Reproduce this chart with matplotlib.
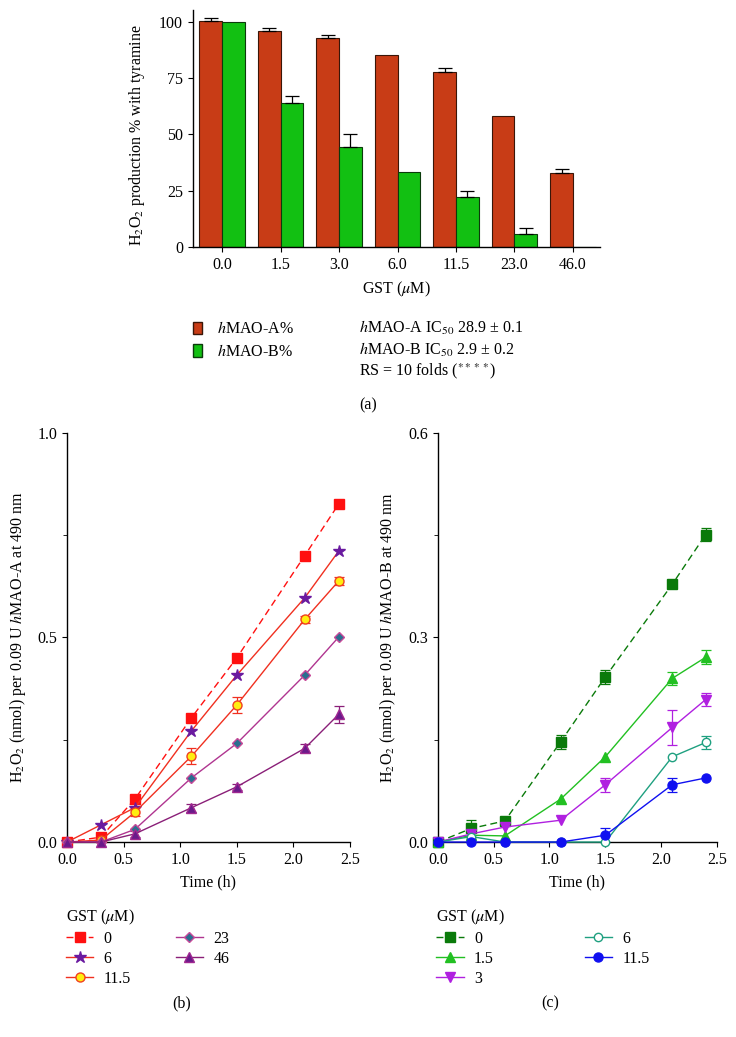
import matplotlib

matplotlib.use("Agg")
import matplotlib.pyplot as plt
import numpy as np
from matplotlib.patches import Patch
from matplotlib.ticker import FormatStrFormatter

FS = 11.5
plt.rcParams.update({
    "font.family": ["Liberation Serif", "DejaVu Serif"],
    "mathtext.fontset": "stix",
    "font.size": FS,
    "axes.spines.top": False,
    "axes.spines.right": False,
    "axes.linewidth": 1.0,
    "xtick.direction": "out",
    "ytick.direction": "out",
    "figure.facecolor": "white",
})

# ---- panel (a): % H2O2 production vs GST concentration ----
gst_labels = ["0.0", "1.5", "3.0", "6.0", "11.5", "23.0", "46.0"]
mao_a_pct = [100.3, 95.7, 92.7, 85.0, 77.7, 58.0, 32.8]
mao_a_err = [1.3, 1.5, 1.2, 0.0, 1.6, 0.0, 1.6]
mao_b_pct = [100.0, 64.0, 44.4, 33.0, 22.3, 5.5, 0.0]
mao_b_err = [0.0, 2.9, 5.5, 0.0, 2.7, 2.8, 0.0]

# ---- time courses ----
time_h = [0.0, 0.3, 0.6, 1.1, 1.5, 2.1, 2.4]

# panel (b): hMAO-A
b_labels = ["0", "6", "11.5", "23", "46"]
b_vals = [
    [0.0, 0.012, 0.105, 0.304, 0.450, 0.700, 0.826],
    [0.0, 0.042, 0.084, 0.272, 0.408, 0.597, 0.711],
    [0.0, 0.005, 0.073, 0.210, 0.335, 0.544, 0.638],
    [0.0, 0.000, 0.031, 0.157, 0.241, 0.408, 0.501],
    [0.0, 0.000, 0.020, 0.084, 0.135, 0.229, 0.312],
]
b_errs = [
    [0, 0, 0, 0, 0, 0.005, 0.008],
    [0, 0, 0, 0, 0, 0, 0],
    [0, 0, 0.01, 0.02, 0.02, 0.008, 0.01],
    [0, 0, 0, 0, 0, 0, 0],
    [0, 0, 0.008, 0.01, 0.008, 0.01, 0.02],
]

# panel (c): hMAO-B
c_labels = ["0", "1.5", "3", "6", "11.5"]
c_vals = [
    [0.0, 0.020, 0.031, 0.147, 0.242, 0.378, 0.451],
    [0.0, 0.010, 0.009, 0.063, 0.125, 0.240, 0.271],
    [0.0, 0.012, 0.022, 0.032, 0.084, 0.168, 0.209],
    [0.0, 0.008, 0.000, 0.000, 0.000, 0.125, 0.146],
    [0.0, 0.000, 0.000, 0.000, 0.010, 0.084, 0.094],
]
c_errs = [
    [0, 0.013, 0.005, 0.01, 0.01, 0.004, 0.01],
    [0, 0, 0, 0, 0, 0.01, 0.01],
    [0, 0, 0, 0, 0.01, 0.025, 0.01],
    [0, 0, 0, 0, 0, 0, 0.01],
    [0, 0, 0, 0, 0.01, 0.01, 0],
]

b_styles = [
    dict(color="#ff1010", ls="--", marker="s", mfc="#ff1010", mec="#ff1010", ms=6.5),
    dict(color="#f03020", ls="-", marker="*", mfc="#6a1aa0", mec="#6a1aa0", ms=9),
    dict(color="#f03020", ls="-", marker="o", mfc="#ffee10", mec="#f04020", ms=6.5),
    dict(color="#b03590", ls="-", marker="D", mfc="#2a6f90", mec="#c84a9a", ms=5.5),
    dict(color="#8a1f78", ls="-", marker="^", mfc="#6a1a8a", mec="#a02890", ms=6.5),
]
c_styles = [
    dict(color="#0a7a0a", ls="--", marker="s", mfc="#0a7a0a", mec="#0a7a0a", ms=6.5),
    dict(color="#22c022", ls="-", marker="^", mfc="#22c022", mec="#22c022", ms=6.5),
    dict(color="#b020e0", ls="-", marker="v", mfc="#b020e0", mec="#b020e0", ms=6.5),
    dict(color="#1fa080", ls="-", marker="o", mfc="white", mec="#1fa080", ms=6),
    dict(color="#1010f0", ls="-", marker="o", mfc="#1010f0", mec="#1010f0", ms=6.5),
]

fig = plt.figure(figsize=(7.36, 10.37), dpi=100)

# ---------------- (a) ----------------
ax = fig.add_axes([0.262, 0.762, 0.553, 0.228])
x = np.arange(len(gst_labels))
w = 0.39
red = "#c83c16"
green = "#12c012"
ax.bar(x - w / 2, mao_a_pct, w, color=red, edgecolor="#3a1608", linewidth=0.8)
ax.bar(x + w / 2, mao_b_pct, w, color=green, edgecolor="#0b3a0b", linewidth=0.8)
for xs, vals, errs in [(x - w / 2, mao_a_pct, mao_a_err), (x + w / 2, mao_b_pct, mao_b_err)]:
    errs = np.array(errs)
    m = errs > 0
    ax.errorbar(xs[m], np.array(vals)[m], yerr=[np.zeros(m.sum()), errs[m]],
                fmt="none", ecolor="black", elinewidth=0.9, capsize=5, capthick=0.9)
ax.set_xlim(-0.5, 6.46)
ax.set_ylim(0, 105)
ax.set_yticks([0, 25, 50, 75, 100])
ax.set_xticks(x)
ax.set_xticklabels(gst_labels)
ax.set_xlabel(r"GST ($\mu$M)", labelpad=5)
ax.set_ylabel(r"H$_2$O$_2$ production % with tyramine")
ax.yaxis.set_label_coords(-0.113, 0.47)

handles = [Patch(facecolor=red, edgecolor="#3a1608"), Patch(facecolor=green, edgecolor="#0b3a0b")]
fig.legend(handles, [r"$h$MAO-A%", r"$h$MAO-B%"], loc="upper left",
           bbox_to_anchor=(0.262, 0.690), frameon=False, handlelength=0.6,
           handleheight=0.85, handletextpad=0.9, labelspacing=0.4, fontsize=FS,
           borderaxespad=0, borderpad=0)
fig.text(0.488, 0.684, r"$h$MAO-A IC$_{50}$ 28.9 ± 0.1", fontsize=FS, va="center")
fig.text(0.488, 0.663, r"$h$MAO-B IC$_{50}$ 2.9 ± 0.2", fontsize=FS, va="center")
fig.text(0.488, 0.642, r"RS = 10 folds ($^{****}$)", fontsize=FS, va="center")
fig.text(0.5, 0.609, "(a)", fontsize=FS, ha="center", va="center")


def time_panel(rect, vals_list, errs_list, styles, labels, ymax, yticks, yminor, ylabel,
               ylab_x, leg_x, colspace):
    ax = fig.add_axes(rect)
    lines = []
    for vals, errs, st in zip(vals_list, errs_list, styles):
        errs = np.array(errs)
        m = errs > 0
        ax.errorbar(np.array(time_h)[m], np.array(vals)[m], yerr=errs[m], fmt="none",
                    ecolor=st["color"], elinewidth=0.9, capsize=3.5, capthick=0.9, clip_on=False)
        ln, = ax.plot(time_h, vals, color=st["color"], ls=st["ls"], lw=1.0,
                      marker=st["marker"], mfc=st["mfc"], mec=st["mec"], ms=st["ms"],
                      mew=1.0, clip_on=False, zorder=3,
                      dashes=(5, 3) if st["ls"] == "--" else (None, None))
        lines.append(ln)
    ax.set_xlim(0, 2.5)
    ax.set_ylim(0, ymax)
    ax.set_xticks([0, 0.5, 1.0, 1.5, 2.0, 2.5])
    ax.set_yticks(yticks)
    ax.set_yticks(yminor, minor=True)
    ax.tick_params(which="minor", length=3)
    ax.xaxis.set_major_formatter(FormatStrFormatter("%.1f"))
    ax.yaxis.set_major_formatter(FormatStrFormatter("%.1f"))
    ax.set_xlabel("Time (h)", labelpad=5)
    ax.set_ylabel(ylabel)
    ax.yaxis.set_label_coords(ylab_x, 0.5)
    fig.legend(lines, labels, loc="upper left", bbox_to_anchor=(leg_x, 0.125),
               ncol=2, frameon=False, title=r"GST ($\mu$M)", alignment="left",
               handlelength=1.7, handletextpad=0.65, labelspacing=0.25,
               columnspacing=colspace, fontsize=FS, title_fontsize=FS,
               borderaxespad=0, borderpad=0)
    return ax


time_panel([0.091, 0.188, 0.3845, 0.3945], b_vals, b_errs, b_styles, b_labels,
           1.0, [0, 0.5, 1.0], [0.25, 0.75],
           r"H$_2$O$_2$ (nmol) per 0.09 U $h$MAO-A at 490 nm", -0.138, 0.090, 2.8)
time_panel([0.595, 0.188, 0.379, 0.3945], c_vals, c_errs, c_styles, c_labels,
           0.6, [0, 0.3, 0.6], [0.15, 0.45],
           r"H$_2$O$_2$ (nmol) per 0.09 U $h$MAO-B at 490 nm", -0.143, 0.593, 5.7)

fig.text(0.247, 0.032, "(b)", fontsize=FS, ha="center", va="center")
fig.text(0.748, 0.032, "(c)", fontsize=FS, ha="center", va="center")

fig.savefig("out.png", dpi=100)
